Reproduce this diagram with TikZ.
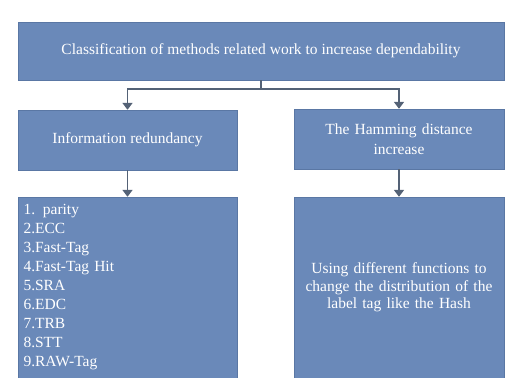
\documentclass[tikz,border=0pt]{standalone}
\usepackage{fontspec}
\setmainfont{Liberation Serif}
\usetikzlibrary{arrows.meta}
\definecolor{boxblue}{RGB}{106,137,185}
\definecolor{boxedge}{RGB}{90,119,164}
\definecolor{linegrey}{RGB}{84,98,118}
\tikzset{
  box/.style={draw=boxedge, fill=boxblue, text=white, inner sep=2pt,
    font=\fontsize{15.5}{19}\selectfont, align=center},
  arrowline/.style={draw=linegrey, line width=1.8pt,
    -{Triangle[width=10pt,length=7pt]}}
}

\begin{document}
\begin{tikzpicture}[x=1pt,y=-1pt]
  \useasboundingbox (0,0) rectangle (507,378);

  \node[box, minimum width=486pt, minimum height=58pt] (top) at (261,51)
    {Classification of methods related work to increase dependability};
  \node[box, minimum width=219pt, minimum height=60pt] (info) at (127.5,140)
    {Information redundancy};
  \node[box, minimum width=210pt, minimum height=60pt, text width=200pt,
    font=\fontsize{15.5}{20}\selectfont] (hamming) at (399,139)
    {The Hamming distance\\increase};
  \node[box, minimum width=219pt, minimum height=181pt, text width=208pt, align=left] (list) at (127.5,287.5)
    {1. parity\\2.ECC\\3.Fast-Tag\\4.Fast-Tag Hit\\5.SRA\\6.EDC\\7.TRB\\8.STT\\9.RAW-Tag};
  \node[box, minimum width=210pt, minimum height=181pt, text width=204pt,
    font=\fontsize{15.5}{17.5}\selectfont] (using) at (399,287.5)
    {Using different functions to\\change the distribution of the\\label tag like the Hash};

  % connectors
  \coordinate (split) at ([yshift=-9pt]top.south);
  \draw[draw=linegrey, line width=1.8pt] (top.south) -- (split);
  \draw[arrowline] (split) -| (info.north);
  \draw[arrowline] (split) -| (hamming.north);
  \draw[arrowline] (info.south) -- (list.north);
  \draw[arrowline] (hamming.south) -- (using.north);
\end{tikzpicture}
\end{document}
